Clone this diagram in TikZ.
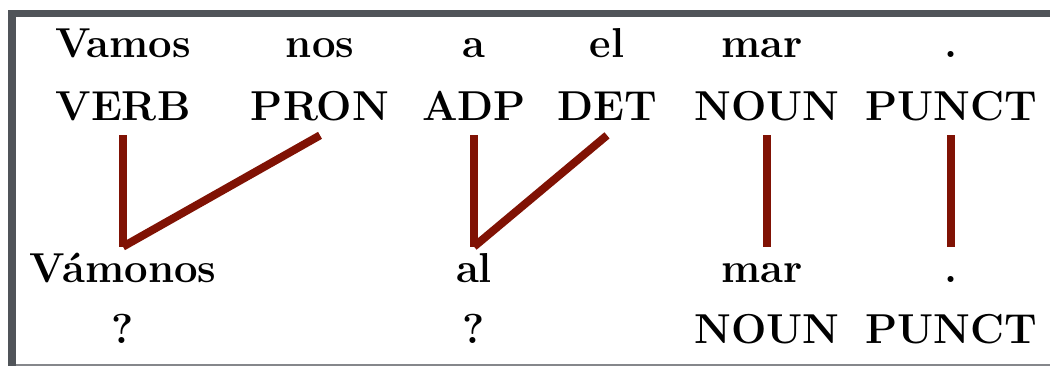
\documentclass[tikz,border=0pt]{standalone}
\usepackage{tikz}
\usetikzlibrary{calc}

\definecolor{framegray}{RGB}{80,84,89}
\definecolor{linkred}{RGB}{128,18,4}

\begin{document}
\begin{tikzpicture}[x=0.02cm, y=0.02cm,
    tok/.style={font=\fontsize{23.8}{28}\selectfont\bfseries, anchor=base,
                text height=0.6cm, text depth=0.2cm, inner xsep=0pt, inner ysep=0.1cm},
    link/.style={draw=linkred, line width=0.16cm}]
            \useasboundingbox (0, 0) rectangle (1050, 366);
            % frame around the table
            \fill [framegray] (8, 0) rectangle (16, 356);
            \fill [framegray] (8, 349) rectangle (1050, 356);
            \fill [framegray!70] (16, 0.5) rectangle (1050, 2.5);
            % original tokens
            \node (w1) at (123, 309) [tok] {Vamos};
            \node (w2) at (320, 309) [tok] {nos};
            \node (w3) at (474, 309) [tok] {a};
            \node (w4) at (607, 309) [tok] {el};
            \node (w5) at (762, 309) [tok] {mar};
            \node (w6) at (951, 309) [tok] {.};
            % their tags
            \node (t1) at (123, 246) [tok] {VERB};
            \node (t2) at (320, 246) [tok] {PRON};
            \node (t3) at (474, 246) [tok] {ADP};
            \node (t4) at (607, 246) [tok] {DET};
            \node (t5) at (767, 246) [tok] {NOUN};
            \node (t6) at (951, 246) [tok] {PUNCT};
            % merged tokens
            \node (m1) at (123, 84) [tok] {Vámonos};
            \node (m2) at (474, 84) [tok] {al};
            \node (m3) at (762, 84) [tok] {mar};
            \node (m4) at (951, 84) [tok] {.};
            % tags of the merged tokens
            \node (u1) at (123, 23) [tok] {?};
            \node (u2) at (474, 23) [tok] {?};
            \node (u3) at (767, 23) [tok] {NOUN};
            \node (u4) at (951, 23) [tok] {PUNCT};
            % alignment links
            \draw [link] (t1.south) -- (m1.north);
            \draw [link] (t2.south) -- (m1.north);
            \draw [link] (t3.south) -- (m2.north);
            \draw [link] (t4.south) -- (m2.north);
            \draw [link] (t5.south) -- (t5.south |- m3.north);
            \draw [link] (t6.south) -- (m4.north);
\end{tikzpicture}
\end{document}
